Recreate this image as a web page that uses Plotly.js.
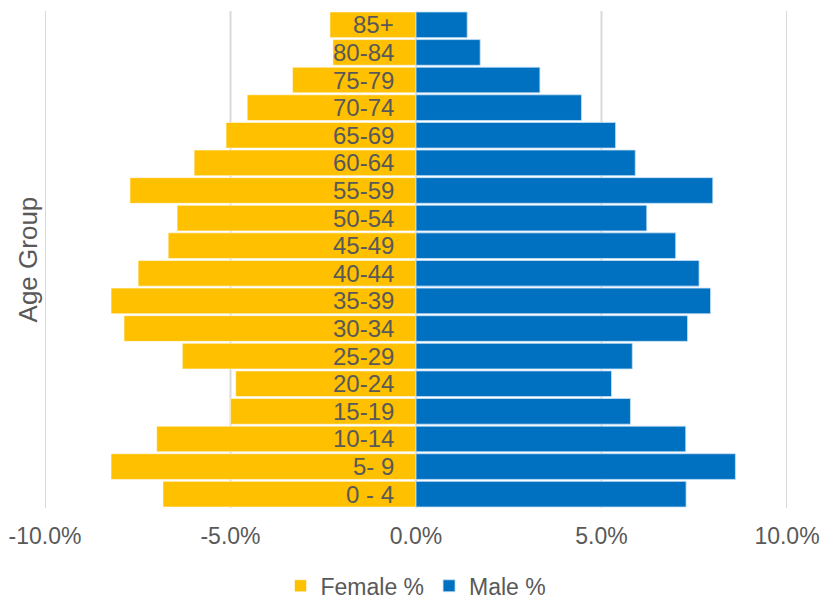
<!DOCTYPE html>
<html>
<head>
<meta charset="utf-8">
<script src="https://cdn.plot.ly/plotly-3.0.1.min.js"></script>
<style>
  html, body { margin: 0; padding: 0; background: #ffffff; }
  #chart { width: 821px; height: 599px; }
</style>
</head>
<body>
<div id="chart"></div>
<script>
// Age groups, listed from youngest (bottom) to oldest (top)
var ageGroups = ["0 - 4", "5- 9", "10-14", "15-19", "20-24", "25-29", "30-34", "35-39",
                 "40-44", "45-49", "50-54", "55-59", "60-64", "65-69", "70-74", "75-79",
                 "80-84", "85+"];

// Share of population (%) — females drawn to the left as negative values
var femalePct = [-6.82, -8.22, -6.99, -5.00, -4.86, -6.30, -7.87, -8.22,
                 -7.49, -6.68, -6.44, -7.71, -5.98, -5.12, -4.55, -3.33,
                 -2.24, -2.32];
var malePct   = [7.28, 8.61, 7.27, 5.78, 5.27, 5.83, 7.32, 7.94,
                 7.63, 7.00, 6.22, 8.00, 5.91, 5.38, 4.46, 3.34,
                 1.73, 1.38];

// Axis ticks
var xTickVals = [-10, -5, 0, 5, 10];
var xTickText = ["-10.0%", "-5.0%", "0.0%", "5.0%", "10.0%"];

var FONT = "'Liberation Sans', Arial, sans-serif";
var GREY = "#595959";

var traces = [
  {
    type: "bar", orientation: "h", name: "Female %",
    y: ageGroups, x: femalePct,
    marker: { color: "#FFC000", line: { color: "rgba(255,255,255,0.55)", width: 1 } },
    hoverinfo: "skip"
  },
  {
    type: "bar", orientation: "h", name: "Male %",
    y: ageGroups, x: malePct,
    marker: { color: "#0070C0", line: { color: "rgba(200,225,245,0.8)", width: 1 } },
    hoverinfo: "skip"
  }
];

// Age-group labels sit just left of the centre line
var labelNotes = ageGroups.map(function (g) {
  return {
    x: 0, y: g, xref: "x", yref: "y",
    text: g, showarrow: false,
    xanchor: "right", yanchor: "middle", xshift: -20,
    font: { family: FONT, size: 24, color: GREY }
  };
});

labelNotes.push({
  x: -0.023, y: 0.5, xref: "paper", yref: "paper",
  text: "Age Group", showarrow: false, textangle: -90,
  xanchor: "center", yanchor: "middle",
  font: { family: FONT, size: 26, color: GREY }
});

// Vertical gridlines at every tick, including the two outer edges
var gridShapes = xTickVals.map(function (v) {
  return {
    type: "line", layer: "below",
    xref: "x", yref: "paper", x0: v, x1: v, y0: 0, y1: 1,
    line: { color: "#d9d9d9", width: 2 }
  };
});

var layout = {
  width: 821, height: 599,
  margin: { l: 45, r: 34, t: 11, b: 91, autoexpand: false },
  paper_bgcolor: "#ffffff", plot_bgcolor: "#ffffff",
  font: { family: FONT, size: 23, color: GREY },
  barmode: "relative",
  bargap: 0.07,
  showlegend: true,
  legend: {
    orientation: "h", x: 0.5, xanchor: "center",
    yref: "container", y: 0.022, yanchor: "middle",
    font: { family: FONT, size: 23, color: GREY },
    itemwidth: 30, tracegroupgap: 0
  },
  xaxis: {
    range: [-10, 10],
    tickmode: "array", tickvals: xTickVals, ticktext: xTickText,
    showgrid: false,
    zeroline: false, showline: false, ticks: "",
    ticklabelstandoff: 12,
    tickfont: { family: FONT, size: 23, color: GREY },
    automargin: false,
    fixedrange: true
  },
  yaxis: {
    type: "category", range: [-0.5, 17.5],
    showgrid: false, zeroline: false, showline: false,
    showticklabels: false, ticks: "",
    automargin: false,
    fixedrange: true
  },
  shapes: gridShapes,
  annotations: labelNotes
};

Plotly.newPlot("chart", traces, layout, { displayModeBar: false, staticPlot: true });
</script>
</body>
</html>
